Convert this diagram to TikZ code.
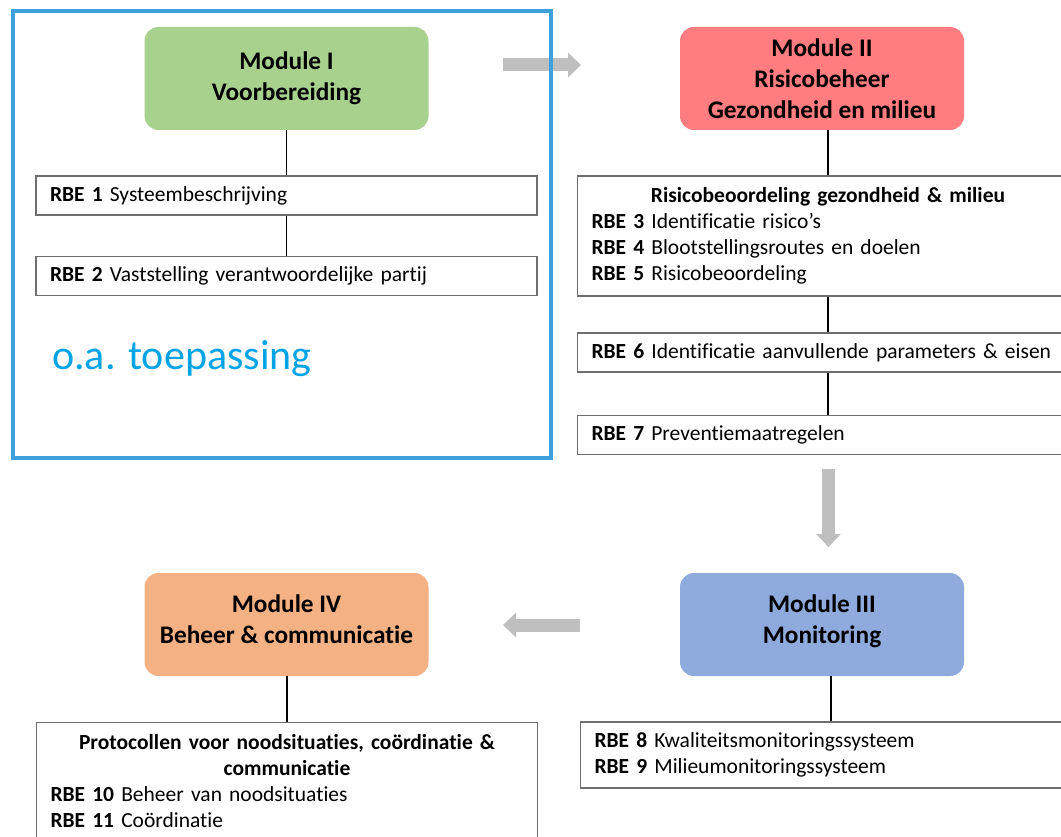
\documentclass[tikz,border=0pt]{standalone}
\usepackage{fontspec}
\setmainfont{Carlito}[Ligatures=NoCommon]
\usetikzlibrary{arrows.meta}
\definecolor{modgreen}{RGB}{169,209,142}
\definecolor{modred}{RGB}{255,124,128}
\definecolor{modblue}{RGB}{143,170,220}
\definecolor{modorange}{RGB}{244,177,131}
\definecolor{framebl}{RGB}{62,160,221}
\definecolor{textbl}{RGB}{0,164,228}
\definecolor{boxgray}{RGB}{110,110,110}
\definecolor{arrgray}{RGB}{191,191,191}
\newcommand\mydepthstrut{\rule[-10.5pt]{0pt}{0pt}}
\begin{document}
\begin{tikzpicture}[x=1pt,y=-1pt,
  modbox/.style={rounded corners=14pt, minimum width=284pt, minimum height=103pt, align=center,
    font=\fontsize{25.3}{31}\selectfont\bfseries, inner sep=0pt},
  rbebox/.style={draw=boxgray, line width=1.2pt, fill=white, minimum height=39pt, text width=473pt,
    inner xsep=14pt, inner ysep=0pt, font=\fontsize{21.5}{26}\selectfont, align=left},
  link/.style={line width=1.9pt},
  bigarrow/.style={draw=arrgray, line width=13pt, -{Triangle[width=24pt,length=13pt]}},
]
\useasboundingbox (0,0) rectangle (1061,837);
\clip (0,0) rectangle (1061,837);
\fill[white] (0,0) rectangle (1061,837);

% gray flow arrows
\coordinate (a1s) at (503,65); \coordinate (a1e) at (581,65);
\coordinate (a2s) at (828.5,469); \coordinate (a2e) at (828.5,547);
\coordinate (a3s) at (580,625); \coordinate (a3e) at (503,625);
\draw[bigarrow] (a1s) -- (a1e);
\draw[bigarrow] (a2s) -- (a2e);
\draw[bigarrow] (a3s) -- (a3e);

% Module I
\node[modbox, fill=modgreen] (m1) at (286.5,78.5) {Module I\\Voorbereiding};
\node[rbebox] (r1) at (286.5,195.5) {\textbf{RBE 1} Systeembeschrijving};
\node[rbebox] (r2) at (286.5,276) {\textbf{RBE 2} Vaststelling verantwoordelijke partij};
\draw[link] (m1.south) -- (r1.north);
\draw[link] (r1.south) -- (r2.north);

% Module II
\node[modbox, fill=modred] (m2) at (822,78.5) {Module II\\Risicobeheer\\Gezondheid en milieu};
\node[rbebox, minimum height=120pt] (r3) at (828,236) {{\centering\textbf{Risicobeoordeling gezondheid \& milieu}\par}\raggedright\textbf{RBE 3} Identificatie risico’s\\\textbf{RBE 4} Blootstellingsroutes en doelen\\\textbf{RBE 5} Risicobeoordeling};
\node[rbebox] (r6) at (828,352.5) {\textbf{RBE 6} Identificatie aanvullende parameters \& eisen};
\node[rbebox] (r7) at (828,435) {\textbf{RBE 7} Preventiemaatregelen};
\draw[link] (m2.south -| r3.north) -- (r3.north);
\draw[link] (r3.south) -- (r6.north);
\draw[link] (r6.south) -- (r7.north);

% Module III
\node[modbox, fill=modblue] (m3) at (822,624.5) {Module III\\Monitoring\mydepthstrut};
\node[rbebox, minimum height=66pt] (r8) at (831,755) {\textbf{RBE 8} Kwaliteitsmonitoringssysteem\\\textbf{RBE 9} Milieumonitoringssysteem};
\draw[link] (m3.south -| r8.north) -- (r8.north);

% Module IV
\node[modbox, fill=modorange] (m4) at (286.5,624.5) {Module IV\\Beheer \& communicatie\mydepthstrut};
\node[rbebox, minimum height=117pt, anchor=north] (r10) at (287,722) {{\centering\textbf{Protocollen voor noodsituaties, coördinatie \&\\communicatie}\par}\raggedright\textbf{RBE 10} Beheer van noodsituaties\\\textbf{RBE 11} Coördinatie};
\draw[link] (m4.south -| r10.north) -- (r10.north);

% application frame
\node[draw=framebl, line width=4pt, minimum width=538pt, minimum height=447pt, inner sep=0pt] (frame) at (282,234.5) {};
\node[font=\fontsize{42}{50}\selectfont, text=textbl, anchor=base west, inner sep=0pt] (oa) at (52,370) {o.a. toepassing};
\end{tikzpicture}
\end{document}
